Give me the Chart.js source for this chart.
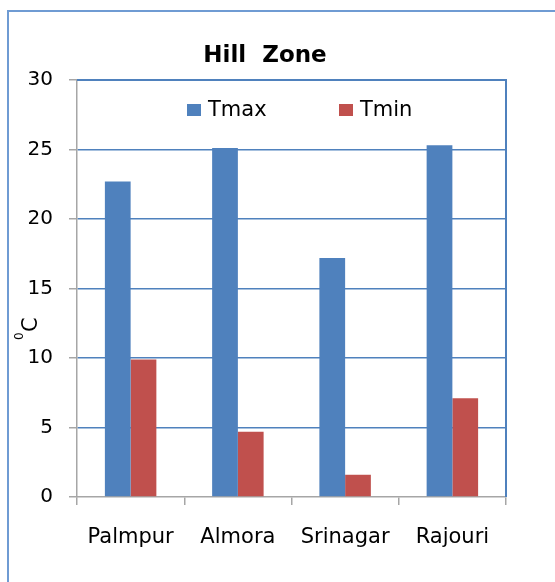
<!DOCTYPE html>
<html>
<head>
<meta charset="utf-8">
<title>Hill Zone</title>
<script src="https://cdn.jsdelivr.net/npm/chart.js@4.4.1/dist/chart.umd.min.js"></script>
<style>
  html, body { margin: 0; padding: 0; background: #ffffff; }
  #wrap { position: relative; width: 555px; height: 582px; }
  canvas { display: block; }
</style>
</head>
<body>
<div id="wrap"><canvas id="chart" width="555" height="582"></canvas></div>
<script>
// Stations of the hill zone and their temperatures (°C)
const stations = ['Palmpur', 'Almora', 'Srinagar', 'Rajouri'];
const tmax = [22.7, 25.1, 17.2, 25.3];
const tmin = [9.9, 4.7, 1.6, 7.1];
const yTicks = [0, 5, 10, 15, 20, 25, 30];

const BLUE = '#4f81bd';
const RED = '#c0504d';
const AXIS_GREY = '#a6a6a6';
const FONT = '"DejaVu Sans", "Liberation Sans", sans-serif';

// Frame, title, in-plot legend, plot border and the rotated °C axis title
const decorations = {
  id: 'decorations',
  beforeDraw(chart) {
    const ctx = chart.ctx;
    ctx.save();
    ctx.fillStyle = '#ffffff';
    ctx.fillRect(0, 0, chart.width, chart.height);
    ctx.strokeStyle = '#6f9bd3';
    ctx.lineWidth = 2;
    ctx.strokeRect(8, 11, 600, 620);
    ctx.restore();
  },
  afterDraw(chart) {
    const ctx = chart.ctx;
    const area = chart.chartArea;
    ctx.save();

    // plot-area border (top and right)
    ctx.strokeStyle = BLUE;
    ctx.lineWidth = 2;
    ctx.beginPath();
    ctx.moveTo(area.left, area.top);
    ctx.lineTo(area.right, area.top);
    ctx.lineTo(area.right, area.bottom);
    ctx.stroke();

    // title
    ctx.fillStyle = '#000000';
    ctx.font = 'bold 23px ' + FONT;
    ctx.textAlign = 'center';
    ctx.textBaseline = 'alphabetic';
    ctx.fillText('Hill  Zone', 265, 62);

    // legend
    const legendX = [187, 339];
    ctx.font = '21px ' + FONT;
    ctx.textAlign = 'left';
    chart.data.datasets.forEach((ds, i) => {
      ctx.fillStyle = ds.backgroundColor;
      ctx.fillRect(legendX[i], 104, 14, 12);
      ctx.fillStyle = '#000000';
      ctx.fillText(ds.label, legendX[i] + 21, 116);
    });

    // y-axis title: superscript 0 followed by C, rotated
    ctx.translate(37, 330);
    ctx.rotate(-Math.PI / 2);
    ctx.textAlign = 'left';
    ctx.font = '12px ' + FONT;
    ctx.fillText('0', -10, -14);
    ctx.font = '21px ' + FONT;
    ctx.fillText('C', -2, 0);

    ctx.restore();
  }
};

new Chart(document.getElementById('chart'), {
  type: 'bar',
  data: {
    labels: stations,
    datasets: [
      { label: 'Tmax', data: tmax, backgroundColor: BLUE, borderWidth: 0 },
      { label: 'Tmin', data: tmin, backgroundColor: RED, borderWidth: 0 }
    ]
  },
  options: {
    responsive: false,
    animation: false,
    devicePixelRatio: 1,
    layout: { padding: { left: 0, top: 80, right: 49, bottom: 0 } },
    datasets: { bar: { categoryPercentage: 0.48, barPercentage: 1.0 } },
    plugins: {
      legend: { display: false },
      title: { display: false },
      tooltip: { enabled: false }
    },
    scales: {
      x: {
        afterFit(scale) { scale.height = 85; },
        grid: {
          display: true,
          offset: true,
          drawOnChartArea: false,
          drawTicks: true,
          tickLength: 8,
          color: AXIS_GREY,
          lineWidth: 1.5
        },
        border: { display: true, color: AXIS_GREY, width: 1.5 },
        ticks: {
          color: '#000000',
          font: { family: FONT, size: 21 },
          padding: 20,
          maxRotation: 0
        }
      },
      y: {
        min: 0,
        max: 30,
        afterFit(scale) { scale.width = 77; },
        afterBuildTicks(scale) { scale.ticks = yTicks.map(v => ({ value: v })); },
        grid: {
          color: (c) => (c.tick && c.tick.value === 0) ? 'rgba(0,0,0,0)' : BLUE,
          lineWidth: 1.5,
          tickColor: AXIS_GREY,
          tickLength: 8,
          drawTicks: true
        },
        border: { display: true, color: AXIS_GREY, width: 1.5 },
        ticks: {
          color: '#000000',
          font: { family: FONT, size: 20 },
          padding: 16
        }
      }
    }
  },
  plugins: [decorations]
});
</script>
</body>
</html>
